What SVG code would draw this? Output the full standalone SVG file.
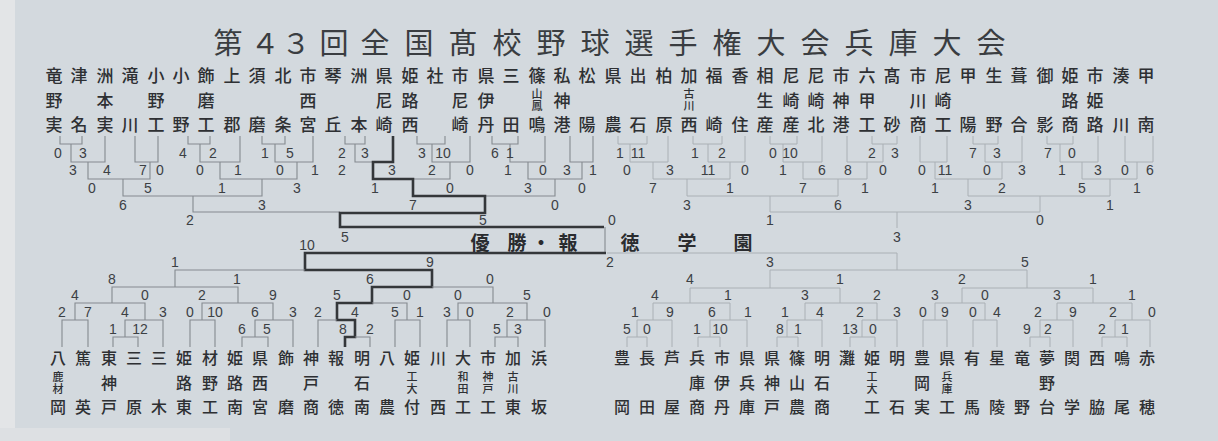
<svg xmlns="http://www.w3.org/2000/svg" width="1218" height="441" viewBox="0 0 1218 441">
<style>
.bg{fill:#d3d9de}
.nm{font-family:"Noto Sans CJK JP","Noto Sans CJK SC",sans-serif;font-weight:500;fill:#2e3033;text-anchor:middle}
.t17{font-size:17px}.t16{font-size:16px}
.vt{font-family:"Noto Sans CJK JP","Noto Sans CJK SC",sans-serif;font-weight:500;fill:#2e3033;font-size:11px;writing-mode:vertical-rl;letter-spacing:1px}
.sc{font-family:"Liberation Sans",Arial,sans-serif;font-size:14px;fill:#3c4044;text-anchor:middle}
.ln{fill:none;stroke:#858a90;stroke-width:1.1}
.fl{fill:none;stroke:#aab0b5;stroke-width:1}
.tk{fill:none;stroke:#34373a;stroke-width:2.6;stroke-linejoin:miter}
</style>
<rect class="bg" x="0" y="0" width="1218" height="441"/>
<rect x="0" y="0" width="15" height="441" fill="#e3e5e7"/>
<rect x="0" y="428" width="230" height="13" fill="#dde0e3"/>

<g id="title">
<text class="nm" style="font-size:29px;font-weight:400;fill:#3a3d41" y="53.5" x="228 265 296 334 375 419 463 507 551 595 639 683 727 771 815 859 903 947 991">第４３回全国髙校野球選手権大会兵庫大会</text>
</g>

<g id="teams-top">
<text class="nm t17" y="82" x="54 79 105 130 156 181 206 232 257 283 308 333 359 384 410 435 460 486 511 537 562 587 613 638 664 689 714 740 765 791 816 841 867 892 918 943 968 994 1019 1045 1070 1095 1121 1146">竜津洲滝小小飾上須北市琴洲県姫社市県三篠私松県出柏加福香相尼尼市六髙市尼甲生葺御姫市湊甲</text>
<text class="nm t17" y="106.5" x="54 105 156 206 308 384 410 460 486">野本野磨西尼路尼伊</text>
<text class="nm t17" y="106.5" x="562">神</text>
<text class="nm t17" y="106.5" x="765 791 816 841 867 918 943 1070 1095">生崎崎神甲川崎路姫</text>
<text class="vt" x="537" y="88.5">山鳳</text>
<text class="vt" x="689" y="88.5">古川</text>
<text class="nm t17" y="131" x="54 79 105 130 156 181 206 232 257 283 308 333 359 384 410 460 486 511 537 562 587 613 638 664 689 714 740 765 791 816 841 867 892 918 943 968 994 1019 1045 1070 1095 1121 1146">実名実川工野工郡磨条宮丘本崎西崎丹田鳴港陽農石原西崎住産産北港工砂商工陽野合影商路川南</text>
</g>

<g id="teams-bottom-left">
<text class="nm t16" y="364" x="58 83 109 134 159 184 210 235 260 286 311 336 362 387 412 438 463 488 513 539">八篤東三三姫材姫県飾神報明八姫川大市加浜</text>
<text class="nm t16" y="389" x="109 184 210 235 260 311 362">神路野路西戸石</text>
<text class="vt" x="58" y="371">鹿材</text>
<text class="vt" x="412" y="371">工大</text>
<text class="vt" x="463" y="371">和田</text>
<text class="vt" x="488" y="371">神戸</text>
<text class="vt" x="513" y="371">古川</text>
<text class="nm t16" y="413" x="58 83 109 134 159 184 210 235 260 286 311 336 362 387 412 438 463 488 513 539">岡英戸原木東工南宮磨商徳南農付西工工東坂</text>
</g>

<g id="teams-bottom-right">
<text class="nm t16" y="364" x="622 647 672 697 722 747 772 797 822 847 872 897 922 947 972 997 1022 1047 1072 1097 1122 1147">豊長芦兵市県県篠明灘姫明豊県有星竜夢関西鳴赤</text>
<text class="nm t16" y="389" x="697 722 747 772 797 822">庫伊兵神山石</text>
<text class="nm t16" y="389" x="922">岡</text>
<text class="nm t16" y="389" x="1047">野</text>
<text class="vt" x="872" y="371">工大</text>
<text class="vt" x="947" y="371">兵庫</text>
<text class="nm t16" y="413" x="622 647 672 697 722 747 772 797 822 872 897 922 947 972 997 1022 1047 1072 1097 1122 1147">岡田屋商丹庫戸農商工石実工馬陵野台学脇尾穂</text>
</g>

<g id="champion">
<text class="nm" style="font-size:19px;font-weight:700;fill:#2a2c2f" y="250" x="480 517 541 568 630 687 743">優勝・報徳学園</text>
</g>

<g id="connectors">
<path class="ln" d="M60,136V144H82V136M188,136V144H210V136M262,136V144H285V136M345,136V144H365V136M417,136V144H445V136M492,136V144H518V136"/>
<path class="fl" d="M618,136V144H647V136M693,136V144H722V136M770,136V144H797V136M872,136V144H897V136M973,136V144H998V136M1047,136V144H1073V136"/>
<path class="ln" d="M71,144V162H105V136M135,136V162H158V136M200,144V162H240V136M275,144V162H313V136M355,144V162H373M432,144V162H470V136M510,144V162H545V136M570,136V162H593V136"/>
<path class="fl" d="M630,144V162H668V136M708,144V162H745V136M783,144V162H822V136M847,136V162H883V144M920,136V162H947V136M985,144V162H1022V136M1060,144V162H1098V136M1125,136V162H1153V136"/>
<path class="ln" d="M88,162V179H150V162M220,162V179H297V162M413,179H450V162M528,162V179H582V162"/>
<path class="fl" d="M653,162V179H730V162M803,162V179H867V162M935,162V179H1002V162M1082,162V179H1137V162"/>
<path class="ln" d="M123,179V196H262V179M485,196H555V179"/>
<path class="fl" d="M687,179V196H838V179M968,179V196H1110V179"/>
<path class="ln" d="M193,196V212H340"/>
<path class="fl" d="M770,196V212H1040V196M897,212V228"/>
<path class="tk" d="M393,136V162H373V179H413V196H485V213H340V227H604"/>
<path class="ln" d="M605,227V253"/>
<path class="tk" d="M345,347V337H355V320H337V303H372V287H432V270H305V253H606"/>
<path class="fl" d="M607,253H897V270"/>
<path class="ln" d="M175,287V270H305M112,303V287H238V303M75,320V303H145V320M202,320V303H273V320M62,347V320H88V347M125,337V320H163V347M190,347V320H215V347M255,337V320H293V347M113,347V337H138V347M242,347V337H268V347"/>
<path class="ln" d="M318,347V320H337M355,337H370V347M372,303H407V320M395,347V320H420V347M432,287H493V303M458,320V303H527V320M447,347V320H470V347M507,337V320H545V347M495,347V337H518V347"/>
<path class="fl" d="M770,288V270H1027V288M690,303V288H840V303M962,303V288H1093V303"/>
<path class="fl" d="M653,320V303H730V320M805,320V303H877V320M935,320V303H985V320M1057,320V303H1132V320"/>
<path class="fl" d="M637,337V320H672V347M710,337V320H747V347M787,337V320H822V347M862,337V320H897V347M923,347V320H947V347M973,347V320H997V347M1040,337V320H1073V347M1115,337V320H1150V347"/>
<path class="fl" d="M627,347V337H647V347M698,347V337H720V347M777,347V337H798V347M850,347V337H875V347M1030,347V337H1050V347M1102,347V337H1127V347"/>
</g>

<g id="scores">
<text class="sc" y="158"><tspan x="58">0</tspan><tspan x="83">3</tspan><tspan x="183">4</tspan><tspan x="213">2</tspan><tspan x="265">1</tspan><tspan x="290">5</tspan><tspan x="342">2</tspan><tspan x="365">3</tspan><tspan x="422">3</tspan><tspan x="443">10</tspan><tspan x="495">6</tspan><tspan x="510">1</tspan><tspan x="620">1</tspan><tspan x="638">11</tspan><tspan x="695">1</tspan><tspan x="722">2</tspan><tspan x="773">0</tspan><tspan x="790">10</tspan><tspan x="872">2</tspan><tspan x="895">3</tspan><tspan x="973">7</tspan><tspan x="997">3</tspan><tspan x="1048">7</tspan><tspan x="1072">0</tspan></text>
<text class="sc" y="175"><tspan x="73">3</tspan><tspan x="107">4</tspan><tspan x="143">7</tspan><tspan x="160">0</tspan><tspan x="200">0</tspan><tspan x="238">1</tspan><tspan x="280">0</tspan><tspan x="315">1</tspan><tspan x="342">2</tspan><tspan x="392">3</tspan><tspan x="432">2</tspan><tspan x="470">0</tspan><tspan x="508">1</tspan><tspan x="543">0</tspan><tspan x="567">3</tspan><tspan x="593">1</tspan><tspan x="627">0</tspan><tspan x="670">3</tspan><tspan x="708">11</tspan><tspan x="745">0</tspan><tspan x="783">1</tspan><tspan x="822">6</tspan><tspan x="848">8</tspan><tspan x="883">0</tspan><tspan x="922">0</tspan><tspan x="945">11</tspan><tspan x="987">0</tspan><tspan x="1022">3</tspan><tspan x="1062">1</tspan><tspan x="1098">3</tspan><tspan x="1125">0</tspan><tspan x="1150">6</tspan></text>
<text class="sc" y="193"><tspan x="92">0</tspan><tspan x="148">5</tspan><tspan x="222">1</tspan><tspan x="297">3</tspan><tspan x="375">1</tspan><tspan x="450">0</tspan><tspan x="528">3</tspan><tspan x="582">0</tspan><tspan x="653">7</tspan><tspan x="730">1</tspan><tspan x="803">7</tspan><tspan x="865">1</tspan><tspan x="935">1</tspan><tspan x="1002">2</tspan><tspan x="1082">5</tspan><tspan x="1137">1</tspan></text>
<text class="sc" y="210"><tspan x="123">6</tspan><tspan x="262">3</tspan><tspan x="413">7</tspan><tspan x="555">0</tspan><tspan x="687">3</tspan><tspan x="838">6</tspan><tspan x="968">3</tspan><tspan x="1110">1</tspan></text>
<text class="sc" y="225"><tspan x="190">2</tspan><tspan x="483">5</tspan><tspan x="612">0</tspan><tspan x="770">1</tspan><tspan x="1040">0</tspan></text>
<text class="sc" y="242" x="345">5</text>
<text class="sc" y="242" x="897">3</text>
<text class="sc" y="250" x="307">10</text>
<text class="sc" y="267"><tspan x="175">1</tspan><tspan x="430">9</tspan><tspan x="610">2</tspan><tspan x="770">3</tspan><tspan x="1025">5</tspan></text>
<text class="sc" y="284"><tspan x="112">8</tspan><tspan x="237">1</tspan><tspan x="370">6</tspan><tspan x="490">0</tspan><tspan x="690">4</tspan><tspan x="840">1</tspan><tspan x="962">2</tspan><tspan x="1093">1</tspan></text>
<text class="sc" y="300"><tspan x="75">4</tspan><tspan x="145">0</tspan><tspan x="202">2</tspan><tspan x="273">9</tspan><tspan x="337">5</tspan><tspan x="407">0</tspan><tspan x="458">0</tspan><tspan x="527">5</tspan><tspan x="655">4</tspan><tspan x="728">1</tspan><tspan x="805">3</tspan><tspan x="877">2</tspan><tspan x="935">3</tspan><tspan x="985">0</tspan><tspan x="1057">3</tspan><tspan x="1132">1</tspan></text>
<text class="sc" y="317"><tspan x="62">2</tspan><tspan x="88">7</tspan><tspan x="125">4</tspan><tspan x="163">3</tspan><tspan x="190">0</tspan><tspan x="215">10</tspan><tspan x="255">6</tspan><tspan x="293">3</tspan><tspan x="318">2</tspan><tspan x="355">4</tspan><tspan x="395">5</tspan><tspan x="420">1</tspan><tspan x="447">3</tspan><tspan x="470">0</tspan><tspan x="510">2</tspan><tspan x="547">0</tspan><tspan x="635">1</tspan><tspan x="670">9</tspan><tspan x="712">6</tspan><tspan x="748">1</tspan><tspan x="785">1</tspan><tspan x="820">4</tspan><tspan x="860">2</tspan><tspan x="897">3</tspan><tspan x="923">0</tspan><tspan x="945">9</tspan><tspan x="973">0</tspan><tspan x="997">4</tspan><tspan x="1038">2</tspan><tspan x="1073">9</tspan><tspan x="1113">2</tspan><tspan x="1152">0</tspan></text>
<text class="sc" y="334"><tspan x="113">1</tspan><tspan x="140">12</tspan><tspan x="242">6</tspan><tspan x="267">5</tspan><tspan x="343">8</tspan><tspan x="370">2</tspan><tspan x="497">5</tspan><tspan x="518">3</tspan><tspan x="627">5</tspan><tspan x="647">0</tspan><tspan x="697">1</tspan><tspan x="720">10</tspan><tspan x="780">8</tspan><tspan x="798">1</tspan><tspan x="850">13</tspan><tspan x="873">0</tspan><tspan x="1027">9</tspan><tspan x="1048">2</tspan><tspan x="1102">2</tspan><tspan x="1125">1</tspan></text>
</g>
</svg>
